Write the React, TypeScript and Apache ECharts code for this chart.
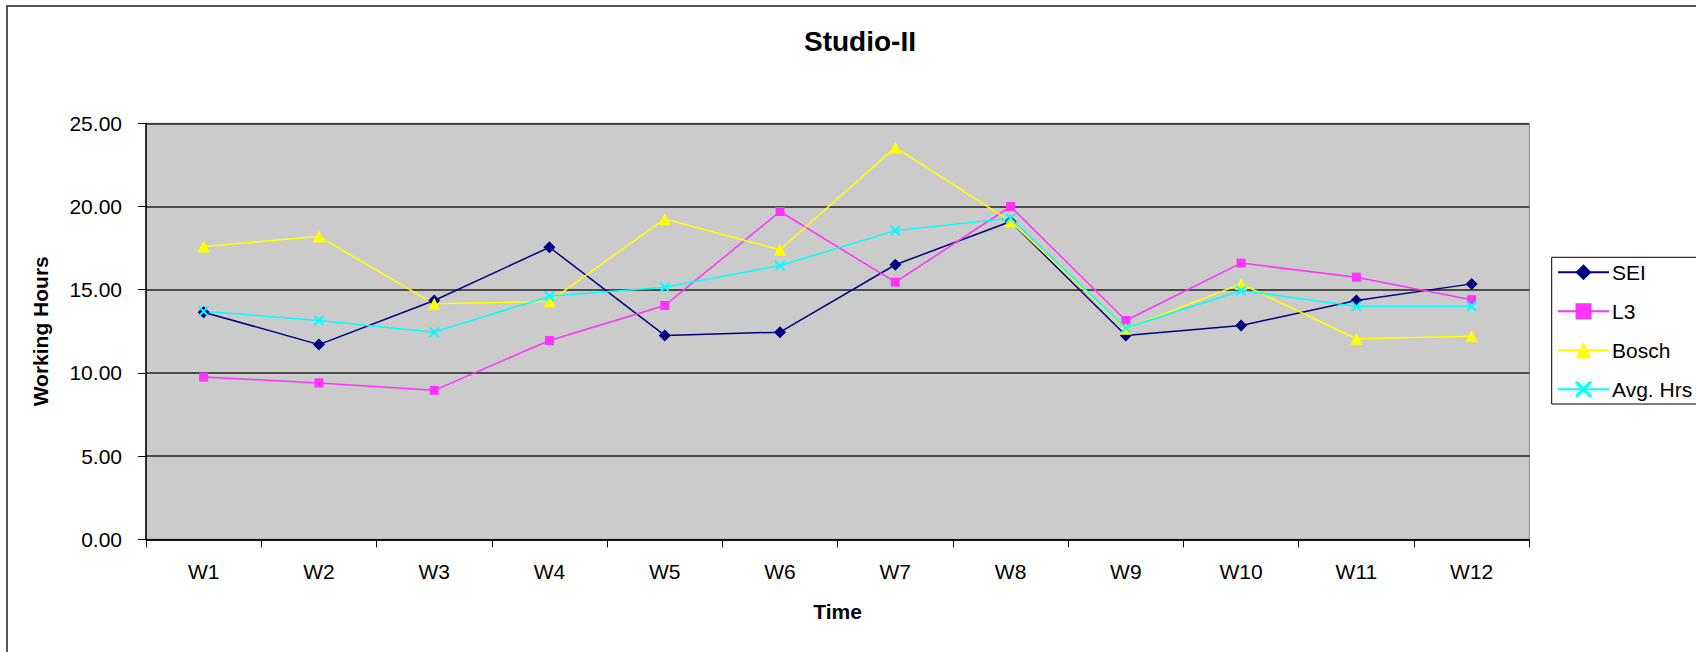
import React, { useEffect, useRef } from "react";
import * as echarts from "echarts";

const weeks = ["W1", "W2", "W3", "W4", "W5", "W6", "W7", "W8", "W9", "W10", "W11", "W12"];
const sei = [13.65, 11.7, 14.35, 17.55, 12.25, 12.45, 16.5, 19.1, 12.25, 12.85, 14.35, 15.35];
const l3 = [9.75, 9.4, 8.95, 11.95, 14.05, 19.7, 15.45, 20.0, 13.15, 16.6, 15.75, 14.4];
const bosch = [17.6, 18.2, 14.15, 14.3, 19.25, 17.4, 23.55, 19.1, 12.65, 15.35, 12.05, 12.2];
const avgHrs = [13.7, 13.15, 12.45, 14.6, 15.15, 16.45, 18.55, 19.3, 12.7, 14.95, 14.0, 14.0];
const yTicks = { min: 0, max: 25, interval: 5 };

const FONT = "'Liberation Sans', Arial, sans-serif";
const FS = 21;
const CROSS =
  "path://M0,0L1.4,0L5,3.6L8.6,0L10,0L10,1.4L6.4,5L10,8.6L10,10L8.6,10L5,6.4L1.4,10L0,10L0,8.6L3.6,5L0,1.4Z";

export default function App() {
  const ref = useRef<HTMLDivElement>(null);
  useEffect(() => {
    if (!ref.current) return;
    const chart = echarts.init(ref.current, null, { renderer: "svg" });
    const mk = (name: string, data: number[], color: string, symbol: string, size: number) => ({
      name,
      type: "line",
      data,
      symbol,
      symbolSize: size,
      lineStyle: { color, width: 1.5 },
      itemStyle: { color, borderWidth: 0 },
      emphasis: { disabled: true },
    });
    chart.setOption({
      animation: false,
      backgroundColor: "#ffffff",
      textStyle: { fontFamily: FONT },
      graphic: [
        {
          type: "polyline",
          shape: { points: [[7, 700], [7, 6], [1750, 6]] },
          style: { fill: "none", stroke: "#222", lineWidth: 1.5 },
          silent: true,
          z: -1,
        },
        {
          type: "polyline",
          shape: { points: [[1750, 257.3], [1551.7, 257.3], [1551.7, 404], [1750, 404]] },
          style: { fill: "none", stroke: "#000", lineWidth: 1 },
          silent: true,
          z: -1,
        },
        {
          type: "text",
          x: 860,
          y: 41,
          style: {
            text: "Studio-II",
            fontFamily: FONT,
            fontSize: 28,
            fontWeight: "bold",
            fill: "#000",
            textAlign: "center",
            textVerticalAlign: "middle",
          },
        },
      ],
      grid: {
        left: 146,
        top: 123.3,
        right: 166.7,
        bottom: 112.7,
        containLabel: false,
        outerBoundsMode: "none",
        show: true,
        backgroundColor: "#cbcbcb",
        borderColor: "#808080",
        borderWidth: 1,
      },
      legend: {
        orient: "vertical",
        left: 1557,
        top: 261.7,
        padding: 0,
        itemWidth: 51,
        itemHeight: 20,
        itemGap: 18,
        textStyle: { fontFamily: FONT, fontSize: FS, color: "#000", padding: [0, 0, 0, -2] },
        data: ["SEI", "L3", "Bosch", "Avg. Hrs"],
      },
      xAxis: {
        type: "category",
        data: weeks,
        boundaryGap: true,
        name: "Time",
        nameLocation: "middle",
        nameGap: 62,
        nameTextStyle: { fontFamily: FONT, fontSize: FS, fontWeight: "bold", color: "#000", verticalAlign: "top" },
        axisLine: { show: true, lineStyle: { color: "#000", width: 1.5 } },
        axisTick: { show: true, interval: 0, length: 8, lineStyle: { color: "#000" } },
        axisLabel: { interval: 0, fontFamily: FONT, fontSize: FS, color: "#000", margin: 22 },
        splitLine: { show: false },
      },
      yAxis: {
        type: "value",
        min: yTicks.min,
        max: yTicks.max,
        interval: yTicks.interval,
        name: "Working Hours",
        nameLocation: "middle",
        nameGap: 95,
        nameRotate: 90,
        nameTextStyle: { fontFamily: FONT, fontSize: FS, fontWeight: "bold", color: "#000" },
        axisLine: { show: true, lineStyle: { color: "#000", width: 1.5 } },
        axisTick: { show: true, length: 8, lineStyle: { color: "#000" } },
        axisLabel: {
          fontFamily: FONT,
          fontSize: FS,
          color: "#000",
          margin: 24,
          formatter: (v: number) => v.toFixed(2),
        },
        splitLine: { show: true, lineStyle: { color: "#222", width: 1.5 } },
      },
      series: [
        mk("SEI", sei, "#000080", "diamond", 12),
        mk("L3", l3, "#ff33ff", "rect", 9),
        mk("Bosch", bosch, "#ffff00", "triangle", 12),
        mk("Avg. Hrs", avgHrs, "#00ffff", CROSS, 10),
      ],
    });
    return () => chart.dispose();
  }, []);
  return (
    <div
      ref={ref}
      style={{ position: "fixed", left: 0, top: 0, width: 1696, height: 652 }}
    />
  );
}
